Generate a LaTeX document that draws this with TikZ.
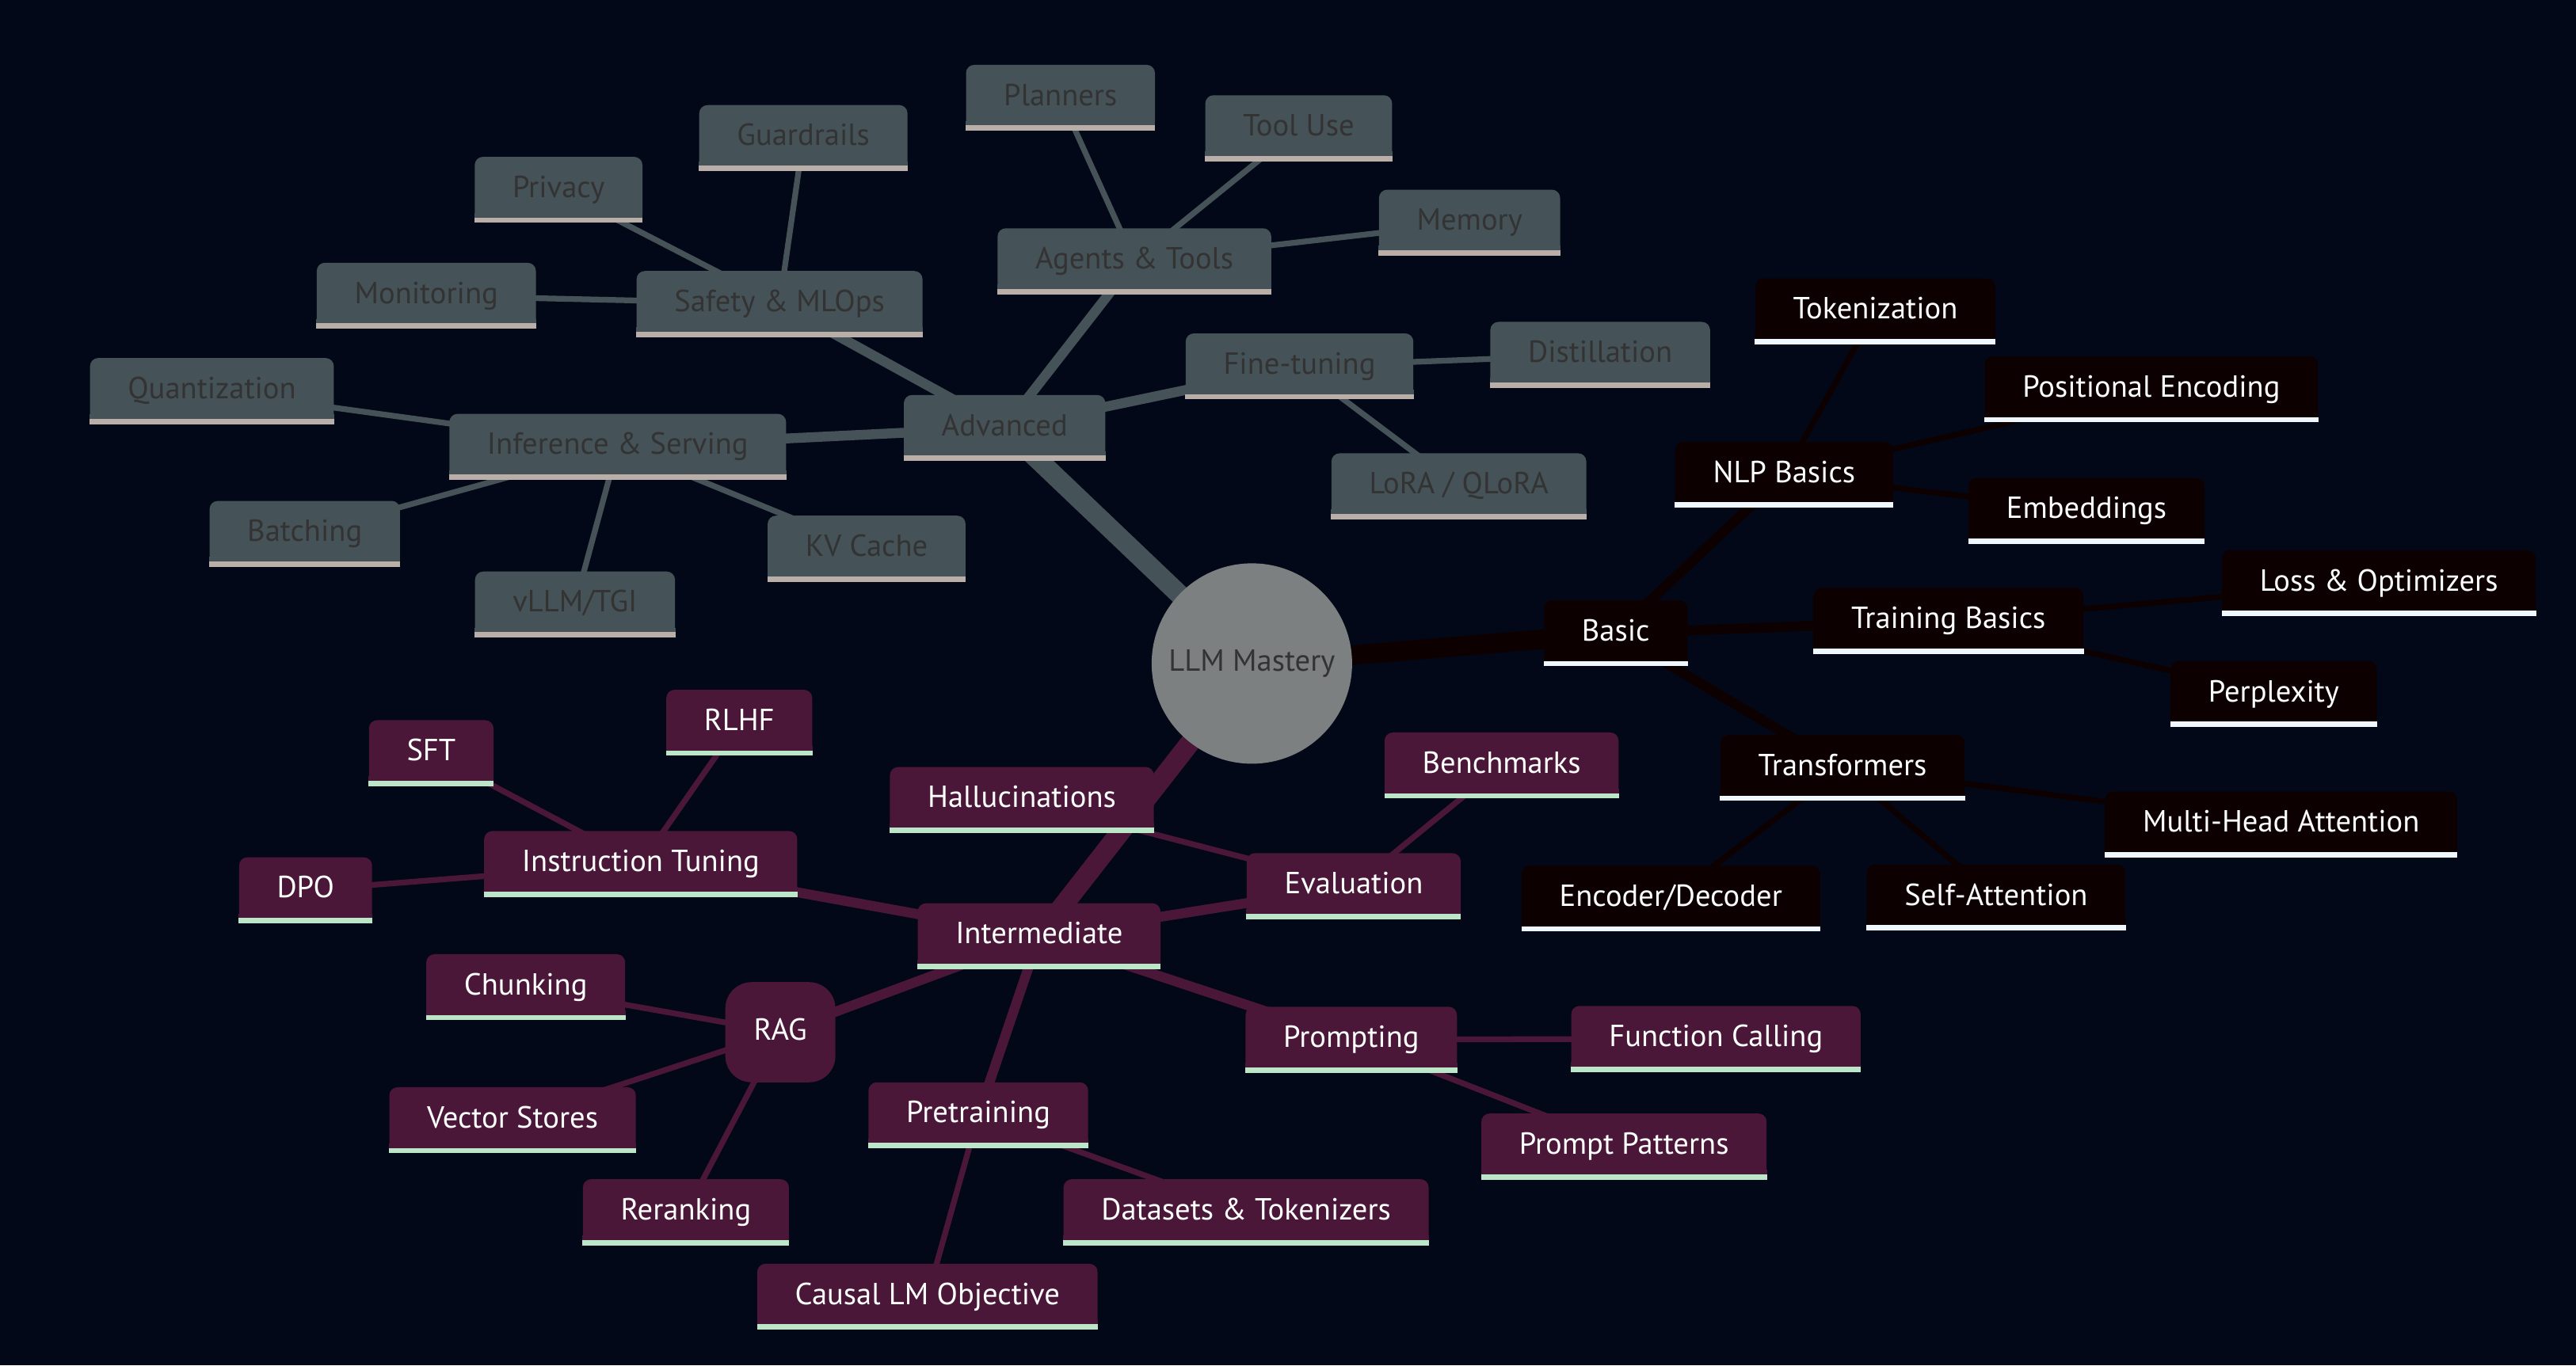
\documentclass[tikz,border=0pt]{standalone}
\usepackage{fontspec}
\setmainfont{PT Sans}
\usetikzlibrary{backgrounds}

\definecolor{bgc}{RGB}{2,8,23}
\definecolor{rootfill}{RGB}{124,128,129}
\definecolor{darktext}{RGB}{51,51,51}
\definecolor{advfill}{RGB}{69,82,87}
\definecolor{advbar}{RGB}{186,174,168}
\definecolor{basfill}{RGB}{12,0,0}
\definecolor{basbar}{RGB}{240,248,255}
\definecolor{midfill}{RGB}{74,23,56}
\definecolor{midbar}{RGB}{187,230,200}

\tikzset{
  box/.style={rectangle, minimum height=40pt, inner xsep=23pt, inner ysep=0pt,
    text height=13.4pt, text depth=4pt, rounded corners=5pt,
    font=\fontsize{18.6}{22}\selectfont},
  advbox/.style={box, fill=advfill, text=darktext},
  basbox/.style={box, fill=basfill, text=white},
  midbox/.style={box, fill=midfill, text=white},
  ragbox/.style={midbox, rounded corners=16pt, minimum height=61pt,
    minimum width=67pt, inner xsep=8pt},
  rootnode/.style={circle, fill=rootfill, text=darktext, minimum size=122pt,
    inner sep=0pt, font=\fontsize{18.6}{22}\selectfont},
  edge0/.style={line width=12pt},
  edge1/.style={line width=6pt},
  edge2/.style={line width=3.5pt}
}

\begin{document}
\begin{tikzpicture}[x=1pt, y=-1pt]
  \useasboundingbox (0,0) rectangle (1568,831.3);

  % Root
  \node[rootnode] (root) at (762,404) {LLM Mastery};

  % Advanced branch
  \node[advbox] (adv) at (611.5,260.5) {Advanced};
  \node[advbox] (agents) at (690.5,159) {Agents \& Tools};
  \node[advbox] (planners) at (645.5,59.5) {Planners};
  \node[advbox] (tooluse) at (790.5,78) {Tool Use};
  \node[advbox] (memory) at (894.5,135.5) {Memory};
  \node[advbox] (finetune) at (791,223) {Fine-tuning};
  \node[advbox] (distill) at (974,216) {Distillation};
  \node[advbox] (lora) at (888,296) {LoRA / QLoRA};
  \node[advbox] (safety) at (474.5,185) {Safety \& MLOps};
  \node[advbox] (guard) at (489,84) {Guardrails};
  \node[advbox] (privacy) at (340,115.5) {Privacy};
  \node[advbox] (monitor) at (259.5,180) {Monitoring};
  \node[advbox] (infer) at (376,272) {Inference \& Serving};
  \node[advbox] (quant) at (129,238) {Quantization};
  \node[advbox] (batch) at (185.5,325) {Batching};
  \node[advbox] (vllm) at (350,368) {vLLM/TGI};
  \node[advbox] (kvcache) at (527.5,334) {KV Cache};

  % Basic branch
  \node[basbox] (basic) at (983.5,385.5) {Basic};
  \node[basbox] (nlp) at (1086,289) {NLP Basics};
  \node[basbox] (token) at (1141.5,189.5) {Tokenization};
  \node[basbox] (posenc) at (1309.5,237) {Positional Encoding};
  \node[basbox] (embed) at (1270,311) {Embeddings};
  \node[basbox] (train) at (1186,378) {Training Basics};
  \node[basbox] (loss) at (1448,355) {Loss \& Optimizers};
  \node[basbox] (perplex) at (1384,422.5) {Perplexity};
  \node[basbox] (transf) at (1121.5,467.5) {Transformers};
  \node[basbox] (mha) at (1388.5,502) {Multi-Head Attention};
  \node[basbox] (selfatt) at (1215,546.5) {Self-Attention};
  \node[basbox] (encdec) at (1017,547) {Encoder/Decoder};

  % Intermediate branch
  \node[midbox] (inter) at (632.5,570) {Intermediate};
  \node[midbox] (halluc) at (622,487) {Hallucinations};
  \node[midbox] (evalu) at (824,539.5) {Evaluation};
  \node[midbox] (bench) at (914,466) {Benchmarks};
  \node[midbox] (instr) at (390,526) {Instruction Tuning};
  \node[midbox] (sft) at (262.5,458.5) {SFT};
  \node[midbox] (rlhf) at (450,440) {RLHF};
  \node[midbox] (dpo) at (186,542) {DPO};
  \node[ragbox] (rag) at (475,628.5) {RAG};
  \node[midbox] (chunk) at (320,601) {Chunking};
  \node[midbox] (vecstore) at (312,682) {Vector Stores};
  \node[midbox] (rerank) at (417.5,738) {Reranking};
  \node[midbox] (pretrain) at (595.5,679) {Pretraining};
  \node[midbox] (datasets) at (758.5,738) {Datasets \& Tokenizers};
  \node[midbox] (causal) at (564.5,789.5) {Causal LM Objective};
  \node[midbox] (prompting) at (822.5,633) {Prompting};
  \node[midbox] (funcall) at (1044.5,632.5) {Function Calling};
  \node[midbox] (patterns) at (988.5,698) {Prompt Patterns};

  % Bottom lines of the boxes
  \foreach \n in {adv,agents,planners,tooluse,memory,finetune,distill,lora,
                  safety,guard,privacy,monitor,infer,quant,batch,vllm,kvcache} {
    \fill[advfill] ([yshift=6pt]\n.south west) rectangle (\n.south east);
    \fill[advbar] ([yshift=3.3pt]\n.south west) rectangle (\n.south east);
  }
  \foreach \n in {basic,nlp,token,posenc,embed,train,loss,perplex,
                  transf,mha,selfatt,encdec} {
    \fill[basfill] ([yshift=6pt]\n.south west) rectangle (\n.south east);
    \fill[basbar] ([yshift=3.3pt]\n.south west) rectangle (\n.south east);
  }
  \foreach \n in {inter,halluc,evalu,bench,instr,sft,rlhf,dpo,chunk,vecstore,
                  rerank,pretrain,datasets,causal,prompting,funcall,patterns} {
    \fill[midfill] ([yshift=6pt]\n.south west) rectangle (\n.south east);
    \fill[midbar] ([yshift=3.3pt]\n.south west) rectangle (\n.south east);
  }

  % Connectors behind the nodes
  \begin{scope}[on background layer]
    \fill[bgc] (0,0) rectangle (1568,831.3);

    \draw[advfill, edge0] (root.center) -- (adv.center);
    \draw[basfill, edge0] (root.center) -- (basic.center);
    \draw[midfill, edge0] (root.center) -- (inter.center);

    \draw[advfill, edge1] (adv.center) -- (agents.center);
    \draw[advfill, edge1] (adv.center) -- (finetune.center);
    \draw[advfill, edge1] (adv.center) -- (safety.center);
    \draw[advfill, edge1] (adv.center) -- (infer.center);
    \draw[advfill, edge2] (agents.center) -- (planners.center);
    \draw[advfill, edge2] (agents.center) -- (tooluse.center);
    \draw[advfill, edge2] (agents.center) -- (memory.center);
    \draw[advfill, edge2] (finetune.center) -- (distill.center);
    \draw[advfill, edge2] (finetune.center) -- (lora.center);
    \draw[advfill, edge2] (safety.center) -- (guard.center);
    \draw[advfill, edge2] (safety.center) -- (privacy.center);
    \draw[advfill, edge2] (safety.center) -- (monitor.center);
    \draw[advfill, edge2] (infer.center) -- (quant.center);
    \draw[advfill, edge2] (infer.center) -- (batch.center);
    \draw[advfill, edge2] (infer.center) -- (vllm.center);
    \draw[advfill, edge2] (infer.center) -- (kvcache.center);

    \draw[basfill, edge1] (basic.center) -- (nlp.center);
    \draw[basfill, edge1] (basic.center) -- (train.center);
    \draw[basfill, edge1] (basic.center) -- (transf.center);
    \draw[basfill, edge2] (nlp.center) -- (token.center);
    \draw[basfill, edge2] (nlp.center) -- (posenc.center);
    \draw[basfill, edge2] (nlp.center) -- (embed.center);
    \draw[basfill, edge2] (train.center) -- (loss.center);
    \draw[basfill, edge2] (train.center) -- (perplex.center);
    \draw[basfill, edge2] (transf.center) -- (mha.center);
    \draw[basfill, edge2] (transf.center) -- (selfatt.center);
    \draw[basfill, edge2] (transf.center) -- (encdec.center);

    \draw[midfill, edge1] (inter.center) -- (evalu.center);
    \draw[midfill, edge1] (inter.center) -- (instr.center);
    \draw[midfill, edge1] (inter.center) -- (rag.center);
    \draw[midfill, edge1] (inter.center) -- (pretrain.center);
    \draw[midfill, edge1] (inter.center) -- (prompting.center);
    \draw[midfill, edge2] (evalu.center) -- (halluc.center);
    \draw[midfill, edge2] (evalu.center) -- (bench.center);
    \draw[midfill, edge2] (instr.center) -- (sft.center);
    \draw[midfill, edge2] (instr.center) -- (rlhf.center);
    \draw[midfill, edge2] (instr.center) -- (dpo.center);
    \draw[midfill, edge2] (rag.center) -- (chunk.center);
    \draw[midfill, edge2] (rag.center) -- (vecstore.center);
    \draw[midfill, edge2] (rag.center) -- (rerank.center);
    \draw[midfill, edge2] (pretrain.center) -- (datasets.center);
    \draw[midfill, edge2] (pretrain.center) -- (causal.center);
    \draw[midfill, edge2] (prompting.center) -- (funcall.center);
    \draw[midfill, edge2] (prompting.center) -- (patterns.center);
  \end{scope}
\end{tikzpicture}
\end{document}
